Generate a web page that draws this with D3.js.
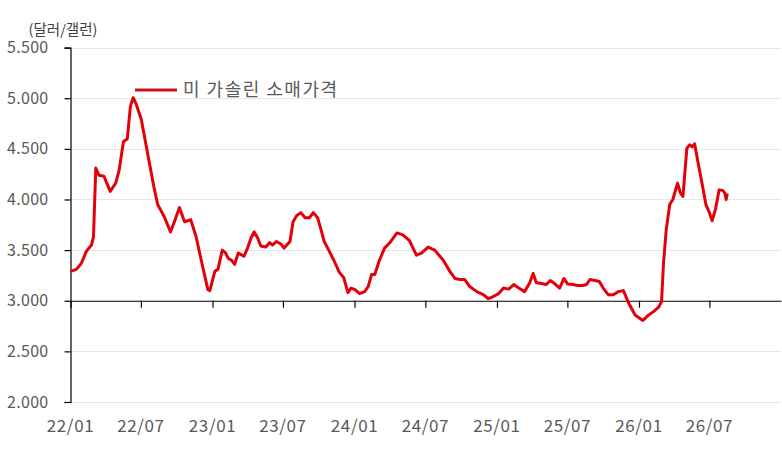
<!DOCTYPE html>
<html>
<head>
<meta charset="utf-8">
<script src="https://cdn.jsdelivr.net/npm/d3@7"></script>
<style>
  html, body { margin: 0; padding: 0; background: #fff; }
  svg { display: block; }
</style>
</head>
<body>
<div id="chart"></div>
<script>
// US retail gasoline price, weekly-ish readings
const SERIES_NAME = '미 가솔린 소매가격';
const UNIT_LABEL = '(달러/갤런)';

const dates = [
  '2022-01-01', '2022-01-16', '2022-01-29', '2022-02-11', '2022-02-24', '2022-03-01', '2022-03-07', '2022-03-15',
  '2022-03-28', '2022-04-13', '2022-04-27', '2022-05-06', '2022-05-17', '2022-05-27', '2022-06-04', '2022-06-11',
  '2022-06-18', '2022-07-02', '2022-07-18', '2022-08-03', '2022-08-13', '2022-08-30', '2022-09-15', '2022-09-25',
  '2022-10-08', '2022-10-21', '2022-11-06', '2022-11-20', '2022-12-03', '2022-12-20', '2022-12-25', '2023-01-07',
  '2023-01-15', '2023-01-26', '2023-02-04', '2023-02-10', '2023-02-19', '2023-02-27', '2023-03-08', '2023-03-23',
  '2023-04-01', '2023-04-10', '2023-04-18', '2023-04-27', '2023-05-05', '2023-05-18', '2023-05-28', '2023-06-04',
  '2023-06-14', '2023-06-26', '2023-07-04', '2023-07-19', '2023-07-27', '2023-08-05', '2023-08-16', '2023-08-27',
  '2023-09-07', '2023-09-17', '2023-09-28', '2023-10-07', '2023-10-15', '2023-10-28', '2023-11-10', '2023-11-23',
  '2023-12-04', '2023-12-15', '2023-12-23', '2024-01-02', '2024-01-14', '2024-01-27', '2024-02-05', '2024-02-14',
  '2024-02-22', '2024-03-04', '2024-03-18', '2024-03-31', '2024-04-19', '2024-05-04', '2024-05-21', '2024-06-08',
  '2024-06-21', '2024-07-08', '2024-07-25', '2024-08-16', '2024-09-02', '2024-09-15', '2024-09-28', '2024-10-10',
  '2024-10-23', '2024-11-10', '2024-11-27', '2024-12-10', '2024-12-22', '2025-01-05', '2025-01-18', '2025-01-31',
  '2025-02-13', '2025-02-26', '2025-03-13', '2025-03-26', '2025-04-04', '2025-04-12', '2025-04-25', '2025-05-08',
  '2025-05-18', '2025-05-29', '2025-06-11', '2025-06-22', '2025-07-02', '2025-07-15', '2025-07-28', '2025-08-10',
  '2025-08-19', '2025-08-28', '2025-09-10', '2025-09-21', '2025-10-01', '2025-10-14', '2025-10-27', '2025-11-09',
  '2025-11-22', '2025-12-05', '2025-12-22', '2026-01-11', '2026-01-26', '2026-02-08', '2026-02-21', '2026-02-28',
  '2026-03-05', '2026-03-12', '2026-03-21', '2026-03-29', '2026-04-10', '2026-04-18', '2026-04-24', '2026-05-04',
  '2026-05-11', '2026-05-18', '2026-05-24', '2026-06-02', '2026-06-11', '2026-06-22', '2026-06-30', '2026-07-08',
  '2026-07-17', '2026-07-26', '2026-08-04', '2026-08-10', '2026-08-13', '2026-08-16'
];

const prices = [
  3.29, 3.31, 3.37, 3.49, 3.55, 3.63, 4.31, 4.24,
  4.23, 4.08, 4.16, 4.29, 4.57, 4.60, 4.92, 5.005,
  4.95, 4.79, 4.46, 4.13, 3.95, 3.83, 3.68, 3.78,
  3.92, 3.78, 3.80, 3.63, 3.40, 3.11, 3.10, 3.29,
  3.31, 3.50, 3.47, 3.42, 3.40, 3.36, 3.47, 3.44,
  3.52, 3.62, 3.68, 3.62, 3.54, 3.53, 3.575, 3.55,
  3.585, 3.56, 3.52, 3.585, 3.78, 3.84, 3.87, 3.82,
  3.82, 3.87, 3.82, 3.70, 3.585, 3.49, 3.39, 3.28,
  3.23, 3.08, 3.125, 3.11, 3.07, 3.09, 3.14, 3.26,
  3.26, 3.39, 3.52, 3.57, 3.67, 3.65, 3.595, 3.45,
  3.47, 3.53, 3.50, 3.40, 3.29, 3.22, 3.21, 3.21,
  3.14, 3.09, 3.06, 3.02, 3.04, 3.07, 3.125, 3.115,
  3.16, 3.125, 3.09, 3.175, 3.27, 3.18, 3.17, 3.16,
  3.20, 3.17, 3.125, 3.22, 3.165, 3.16, 3.15, 3.15,
  3.16, 3.21, 3.20, 3.19, 3.125, 3.06, 3.06, 3.09,
  3.10, 2.98, 2.86, 2.805, 2.86, 2.895, 2.94, 2.99,
  3.37, 3.70, 3.95, 4.00, 4.16, 4.06, 4.03, 4.505,
  4.54, 4.52, 4.55, 4.36, 4.18, 3.95, 3.88, 3.79,
  3.91, 4.095, 4.09, 4.06, 4.00, 4.06
];

const yTicks = [2.0, 2.5, 3.0, 3.5, 4.0, 4.5, 5.0, 5.5];
const xTickDates = ['2022-01-01', '2022-07-01', '2023-01-01', '2023-07-01', '2024-01-01',
                    '2024-07-01', '2025-01-01', '2025-07-01', '2026-01-01', '2026-07-01'];

const W = 782, H = 450;
const FONT = "'Noto Sans CJK KR', 'Noto Sans', sans-serif";
const TEXT_COLOR = '#595959';
const LINE_COLOR = '#e3000b';

const parse = d3.timeParse('%Y-%m-%d');
const data = dates.map((d, i) => ({ date: parse(d), value: prices[i] }));

const svg = d3.select('#chart').append('svg')
    .attr('width', W)
    .attr('height', H)
    .style('font-family', FONT);

const x = d3.scaleTime()
    .domain([parse('2022-01-01'), parse('2027-01-01')])
    .range([70.5, 781]);

const y = d3.scaleLinear()
    .domain([2, 5.5])
    .range([402, 47.6]);

// Gridlines (the 3.000 line is the category axis, drawn separately)
svg.append('g')
    .selectAll('line')
    .data(yTicks.filter(v => v !== 3.0))
    .join('line')
    .attr('x1', x.range()[0])
    .attr('x2', x.range()[1])
    .attr('y1', d => Math.round(y(d)) + 0.5)
    .attr('y2', d => Math.round(y(d)) + 0.5)
    .attr('stroke', '#e6e6e6')
    .attr('stroke-width', 1);

// Y axis
const yAxis = svg.append('g')
    .attr('transform', `translate(${x.range()[0]},0)`)
    .call(d3.axisLeft(y)
        .tickValues(yTicks)
        .tickSize(6)
        .tickPadding(16)
        .tickFormat(d3.format('.3f')));
yAxis.select('.domain').attr('stroke', '#000').attr('stroke-width', 1.2);
yAxis.selectAll('.tick line').attr('stroke', '#000').attr('stroke-width', 1.2);
yAxis.selectAll('.tick text')
    .attr('fill', TEXT_COLOR)
    .attr('font-size', '16px')
    .attr('letter-spacing', '0.3px')
    .attr('font-family', FONT);

// X axis sits on the 3.000 level, labels along the bottom
const xAxis = svg.append('g')
    .attr('transform', `translate(0,${y(3.0)})`)
    .call(d3.axisBottom(x)
        .tickValues(xTickDates.map(parse))
        .tickSize(7)
        .tickSizeOuter(0)
        .tickFormat(() => ''));
xAxis.select('.domain').attr('stroke', '#000').attr('stroke-width', 1.2);
xAxis.selectAll('.tick line').attr('stroke', '#000').attr('stroke-width', 1.2);

const fmtX = d3.timeFormat('%y/%m');
svg.append('g')
    .selectAll('text')
    .data(xTickDates.map(parse))
    .join('text')
    .attr('x', d => x(d))
    .attr('y', 426)
    .attr('dy', '0.35em')
    .attr('text-anchor', 'middle')
    .attr('fill', TEXT_COLOR)
    .attr('font-size', '17px')
    .attr('letter-spacing', '0.6px')
    .text(d => fmtX(d));

// Unit label
svg.append('text')
    .attr('x', 63)
    .attr('y', 30)
    .attr('dy', '0.35em')
    .attr('text-anchor', 'middle')
    .attr('fill', '#404040')
    .attr('font-size', '14.5px')
    .text(UNIT_LABEL);

// Price line
const line = d3.line()
    .x(d => x(d.date))
    .y(d => y(d.value))
    .curve(d3.curveLinear);

svg.append('path')
    .datum(data)
    .attr('d', line)
    .attr('fill', 'none')
    .attr('stroke', LINE_COLOR)
    .attr('stroke-width', 3)
    .attr('stroke-linejoin', 'round');

// Legend
const legend = svg.append('g').attr('transform', 'translate(135,90)');
legend.append('line')
    .attr('x1', 0).attr('x2', 42)
    .attr('y1', 0).attr('y2', 0)
    .attr('stroke', '#cc1218')
    .attr('stroke-width', 3);
legend.append('text')
    .attr('x', 48)
    .attr('y', 0)
    .attr('dy', '0.35em')
    .attr('fill', TEXT_COLOR)
    .attr('font-size', '18px')
    .attr('letter-spacing', '1.5px')
    .text(SERIES_NAME);
</script>
</body>
</html>
